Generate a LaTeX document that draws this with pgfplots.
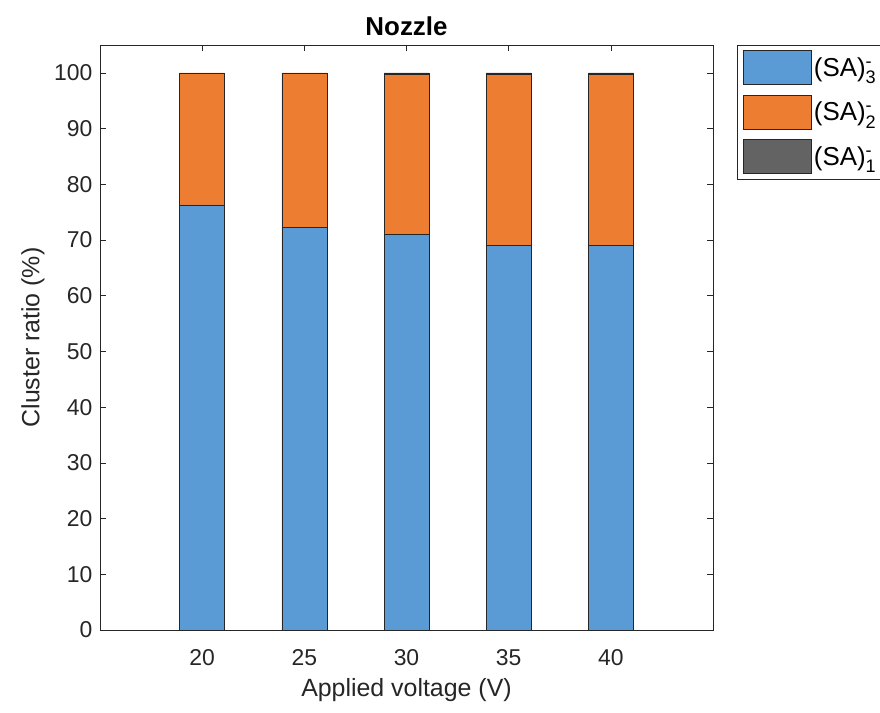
\documentclass[border=0pt]{standalone}
\usepackage{fontspec}
\setmainfont{Liberation Sans}
\usepackage{amsmath}
\usepackage{pgfplots}
\pgfplotsset{compat=1.18}
\definecolor{cblue}{RGB}{91,155,213}
\definecolor{corange}{RGB}{237,125,49}
\definecolor{cgray}{RGB}{99,99,99}
\definecolor{axcol}{RGB}{38,38,38}
\begin{document}
\begin{tikzpicture}
\useasboundingbox (-100bp,-83bp) rectangle (780bp,630bp);
\begin{axis}[
  scale only axis, width=613bp, height=585bp,
  xmin=15, xmax=45, ymin=0, ymax=105,
  ybar stacked, bar width=2.2,
  xtick={20,25,30,35,40}, ytick={0,10,...,100},
  tick align=inside, major tick length=6bp,
  axis line style={axcol, line width=0.6pt},
  tick style={axcol, line width=0.6pt},
  ticklabel style={font=\fontsize{23}{26}\selectfont, text=axcol},
  xticklabel style={yshift=-16bp},
  yticklabel style={xshift=-4bp},
  /pgf/number format/assume math mode=true,
  xlabel={Applied voltage (V)}, ylabel={Cluster ratio (\%)},
  label style={font=\fontsize{25}{28}\selectfont, text=axcol},
  xlabel style={yshift=-6bp},
  ylabel style={yshift=3bp},
  title={Nozzle}, title style={font=\bfseries\fontsize{26}{29}\selectfont, text=black, yshift=0bp},
  legend style={at={(1,1)}, anchor=north west, xshift=24bp,
    draw=axcol, line width=0.6pt, inner xsep=6bp, inner ysep=5bp,
    row sep=10bp, font=\fontsize{26}{29}\selectfont,
    nodes={inner sep=2bp}},
  legend cell align=left,
  legend image code/.code={\draw[#1, line width=0.6pt] (0bp,-17bp) rectangle (68bp,17bp);},
]
\addplot[fill=cblue, draw=black!85, line width=0.6pt] coordinates {(20,76.3) (25,72.3) (30,71.1) (35,69.1) (40,69.1)};
\addplot[fill=corange, draw=black!85, line width=0.6pt] coordinates {(20,23.7) (25,27.7) (30,28.6) (35,30.6) (40,30.6)};
\addplot[fill=cgray, draw=black!85, line width=0.6pt] coordinates {(20,0) (25,0) (30,0.3) (35,0.3) (40,0.3)};
\legend{(SA)$^{\text{-}}_{\text{3}}$, (SA)$^{\text{-}}_{\text{2}}$, (SA)$^{\text{-}}_{\text{1}}$}
\end{axis}
\end{tikzpicture}
\end{document}
